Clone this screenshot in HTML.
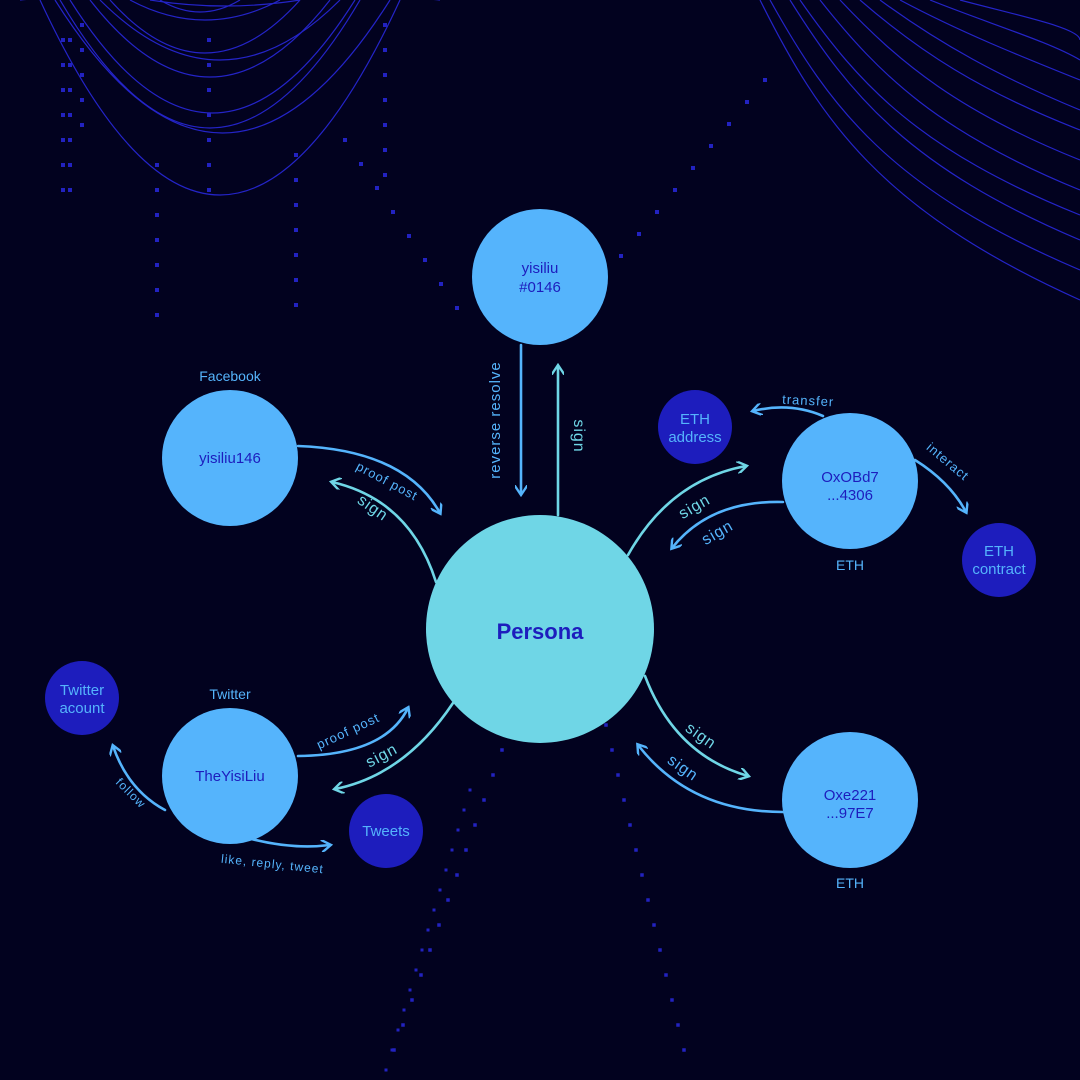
<!DOCTYPE html>
<html><head><meta charset="utf-8"><style>
html,body{margin:0;padding:0;background:#02021f;}
svg{display:block;font-family:"Liberation Sans",sans-serif;}
</style></head><body>
<svg width="1080" height="1080" viewBox="0 0 1080 1080" xmlns="http://www.w3.org/2000/svg">
<defs>
<marker id="ab" viewBox="0 0 12 12" refX="9" refY="6" markerWidth="12" markerHeight="12" markerUnits="userSpaceOnUse" orient="auto"><path d="M1,0 L10,6 L1,12" fill="none" stroke="#55b4fc" stroke-width="2.4" stroke-linecap="round"/></marker>
<marker id="ac" viewBox="0 0 12 12" refX="9" refY="6" markerWidth="12" markerHeight="12" markerUnits="userSpaceOnUse" orient="auto"><path d="M1,0 L10,6 L1,12" fill="none" stroke="#6fd6e6" stroke-width="2.4" stroke-linecap="round"/></marker>
</defs>
<rect width="1080" height="1080" fill="#02021f"/>
<g id="deco" fill="none" stroke="#2424c8" stroke-width="1.2"></g>
<g id="dots" fill="#2222c0"></g>

<g fill="none" stroke-width="2.6" stroke-linecap="round">
<path d="M521,345 L521,494" stroke="#55b4fc" marker-end="url(#ab)"/>
<path d="M558,515 L558,366" stroke="#6fd6e6" marker-end="url(#ac)"/>
<path d="M298,446 Q405,450 440,513" stroke="#55b4fc" marker-end="url(#ab)"/>
<path d="M436,582 Q410,500 332,482" stroke="#6fd6e6" marker-end="url(#ac)"/>
<path d="M628,555 Q670,480 746,466" stroke="#6fd6e6" marker-end="url(#ac)"/>
<path d="M783,502 Q710,500 672,548" stroke="#55b4fc" marker-end="url(#ab)"/>
<path d="M823,416 Q790,402 753,411" stroke="#55b4fc" marker-end="url(#ab)"/>
<path d="M915,460 Q950,482 966,512" stroke="#55b4fc" marker-end="url(#ab)"/>
<path d="M645,676 Q675,755 748,776" stroke="#6fd6e6" marker-end="url(#ac)"/>
<path d="M783,812 Q690,812 638,745" stroke="#55b4fc" marker-end="url(#ab)"/>
<path d="M298,756 Q385,755 408,708" stroke="#55b4fc" marker-end="url(#ab)"/>
<path d="M453,703 Q405,775 335,789" stroke="#6fd6e6" marker-end="url(#ac)"/>
<path d="M165,810 Q128,790 113,746" stroke="#55b4fc" marker-end="url(#ab)"/>
<path d="M244,837 Q290,850 330,845" stroke="#55b4fc" marker-end="url(#ab)"/>
</g>

<g font-size="14" letter-spacing="1">
<text transform="translate(500,420) rotate(-90)" text-anchor="middle" fill="#55b4fc" font-size="15">reverse resolve</text>
<text transform="translate(574,436) rotate(90)" text-anchor="middle" fill="#6fd6e6" font-size="16">sign</text>
<text transform="translate(385,485) rotate(28)" text-anchor="middle" fill="#55b4fc" font-size="13">proof post</text>
<text transform="translate(370,512) rotate(35)" text-anchor="middle" fill="#6fd6e6" font-size="16">sign</text>
<text transform="translate(697,511) rotate(-30)" text-anchor="middle" fill="#6fd6e6" font-size="16">sign</text>
<text transform="translate(720,537) rotate(-30)" text-anchor="middle" fill="#55b4fc" font-size="16">sign</text>
<text transform="translate(808,405) rotate(3)" text-anchor="middle" fill="#55b4fc" font-size="13">transfer</text>
<text transform="translate(945,465) rotate(40)" text-anchor="middle" fill="#55b4fc" font-size="13">interact</text>
<text transform="translate(698,740) rotate(35)" text-anchor="middle" fill="#6fd6e6" font-size="16">sign</text>
<text transform="translate(680,772) rotate(35)" text-anchor="middle" fill="#55b4fc" font-size="16">sign</text>
<text transform="translate(350,735) rotate(-25)" text-anchor="middle" fill="#55b4fc" font-size="13">proof post</text>
<text transform="translate(384,760) rotate(-28)" text-anchor="middle" fill="#6fd6e6" font-size="16">sign</text>
<text transform="translate(128,796) rotate(45)" text-anchor="middle" fill="#55b4fc" font-size="12">follow</text>
<text transform="translate(272,868) rotate(6)" text-anchor="middle" fill="#55b4fc" font-size="12">like, reply, tweet</text>
</g>

<g text-anchor="middle" font-size="15">
<circle cx="540" cy="629" r="114" fill="#6fd6e6"/>
<text x="540" y="639" fill="#1d1dbd" font-size="22" font-weight="bold">Persona</text>

<circle cx="540" cy="277" r="68" fill="#55b4fc"/>
<text x="540" y="273" fill="#1d1dbd">yisiliu</text>
<text x="540" y="292" fill="#1d1dbd">#0146</text>

<text x="230" y="381" fill="#55b4fc" font-size="14">Facebook</text>
<circle cx="230" cy="458" r="68" fill="#55b4fc"/>
<text x="230" y="463" fill="#1d1dbd">yisiliu146</text>

<circle cx="695" cy="427" r="37" fill="#1d1dbd"/>
<text x="695" y="424" fill="#55b4fc">ETH</text>
<text x="695" y="442" fill="#55b4fc">address</text>

<circle cx="850" cy="481" r="68" fill="#55b4fc"/>
<text x="850" y="482" fill="#1d1dbd">OxOBd7</text>
<text x="850" y="500" fill="#1d1dbd">...4306</text>
<text x="850" y="570" fill="#55b4fc" font-size="14">ETH</text>

<circle cx="999" cy="560" r="37" fill="#1d1dbd"/>
<text x="999" y="556" fill="#55b4fc">ETH</text>
<text x="999" y="574" fill="#55b4fc">contract</text>

<circle cx="82" cy="698" r="37" fill="#1d1dbd"/>
<text x="82" y="695" fill="#55b4fc">Twitter</text>
<text x="82" y="713" fill="#55b4fc">acount</text>

<text x="230" y="699" fill="#55b4fc" font-size="14">Twitter</text>
<circle cx="230" cy="776" r="68" fill="#55b4fc"/>
<text x="230" y="781" fill="#1d1dbd">TheYisiLiu</text>

<circle cx="386" cy="831" r="37" fill="#1d1dbd"/>
<text x="386" y="836" fill="#55b4fc">Tweets</text>

<circle cx="850" cy="800" r="68" fill="#55b4fc"/>
<text x="850" y="800" fill="#1d1dbd">Oxe221</text>
<text x="850" y="818" fill="#1d1dbd">...97E7</text>
<text x="850" y="888" fill="#55b4fc" font-size="14">ETH</text>
</g>
</svg>
<script>
const NS='http://www.w3.org/2000/svg';
const deco=document.getElementById('deco'),dots=document.getElementById('dots');
const tl=[[40,400,195],[55,390,133],[60,360,128],[70,355,113],[90,330,77],[100,340,60],[110,300,53],[130,280,20],[150,300,6],[160,240,12],[20,440,-10]];
tl.forEach(c=>{const p=document.createElementNS(NS,'path');


p.setAttribute('d',`M${c[0]},0 Q${(c[0]+c[1])/2},${c[2]*2} ${c[1]},0`);deco.appendChild(p);});
const tr=[[760,300],[770,270],[790,240],[800,215],[820,190],[840,160],[860,130],[880,110],[900,80],[930,60],[960,40]];
tr.forEach(c=>{const p=document.createElementNS(NS,'path');


p.setAttribute('d',`M${c[0]},0 C${c[0]+60},${c[1]*0.4} ${c[0]+120},${c[1]*0.7} 1080,${c[1]}`);deco.appendChild(p);});
function dot(x,y,s){const r=document.createElementNS(NS,'rect');


r.setAttribute('x',x-s/2);r.setAttribute('y',y-s/2);r.setAttribute('width',s);r.setAttribute('height',s);dots.appendChild(r);}
for(let y=40;y<=195;y+=25){dot(63,y,4);dot(70,y,4);}
for(let y=25;y<=130;y+=25)dot(82,y,4);
for(let y=165;y<=320;y+=25)dot(157,y,4);
for(let y=40;y<=195;y+=25)dot(209,y,4);
for(let y=155;y<=310;y+=25)dot(296,y,4);
for(let y=25;y<=190;y+=25)dot(385,y,4);
for(let i=0;i<8;i++)dot(345+i*16,140+i*24,4);
for(let i=0;i<12;i++)dot(765-i*18,80+i*22,4);
for(let i=0;i<15;i++){dot(520-i*9,700+i*25,3.5);dot(600+i*6,700+i*25,3.5);dot(470-i*6,790+i*20,3);}
</script>
</body></html>
